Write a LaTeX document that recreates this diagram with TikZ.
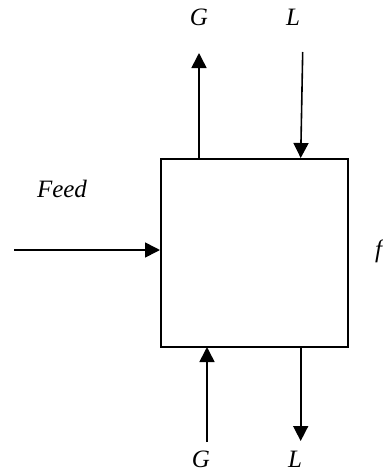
\documentclass[tikz,border=0pt]{standalone}
\usepackage{fontspec}
\setmainfont{Liberation Serif}
\usetikzlibrary{arrows.meta}
\begin{document}
\begin{tikzpicture}[x=1pt,y=-1pt,
  stream/.style={line width=1.6pt,-{Triangle[width=15pt,length=15pt]}},
  lbl/.style={font=\fontsize{25}{30}\selectfont\itshape,inner sep=0pt,anchor=base}]
\clip (0,0) rectangle (383,472);
\useasboundingbox (0,0) rectangle (383,472);
% the unit
\node[draw,line width=1.6pt,minimum width=187pt,minimum height=188pt,inner sep=0pt,anchor=north west] (unit) at (160,158) {};
% ends of the streams
\coordinate (gtop) at (199,53);
\coordinate (ltop) at (302.7,52);
\coordinate (gbot) at (207,442);
\coordinate (lbot) at (300.7,441);
\coordinate (feedin) at (14,250);
\coordinate (gout) at (199,158);
\coordinate (lin) at (300.7,158);
\coordinate (gin) at (207,347);
\coordinate (lout) at (300.7,347);
\coordinate (feedend) at (160,250);
\draw[stream] (gout) -- (gtop);
\draw[stream] (ltop) -- (lin);
\draw[stream] (gbot) -- (gin);
\draw[stream] (lout) -- (lbot);
\draw[stream] (feedin) -- (feedend);
% labels
\node[lbl] (g1) at (199,25) {G};
\node[lbl] (l1) at (293,25) {L};
\node[lbl] (g2) at (201,467) {G};
\node[lbl] (l2) at (295,467) {L};
\node[lbl] (feed) at (62,197) {Feed};
\node[lbl,anchor=base west] (f) at (375,257) {f};
\end{tikzpicture}
\end{document}
